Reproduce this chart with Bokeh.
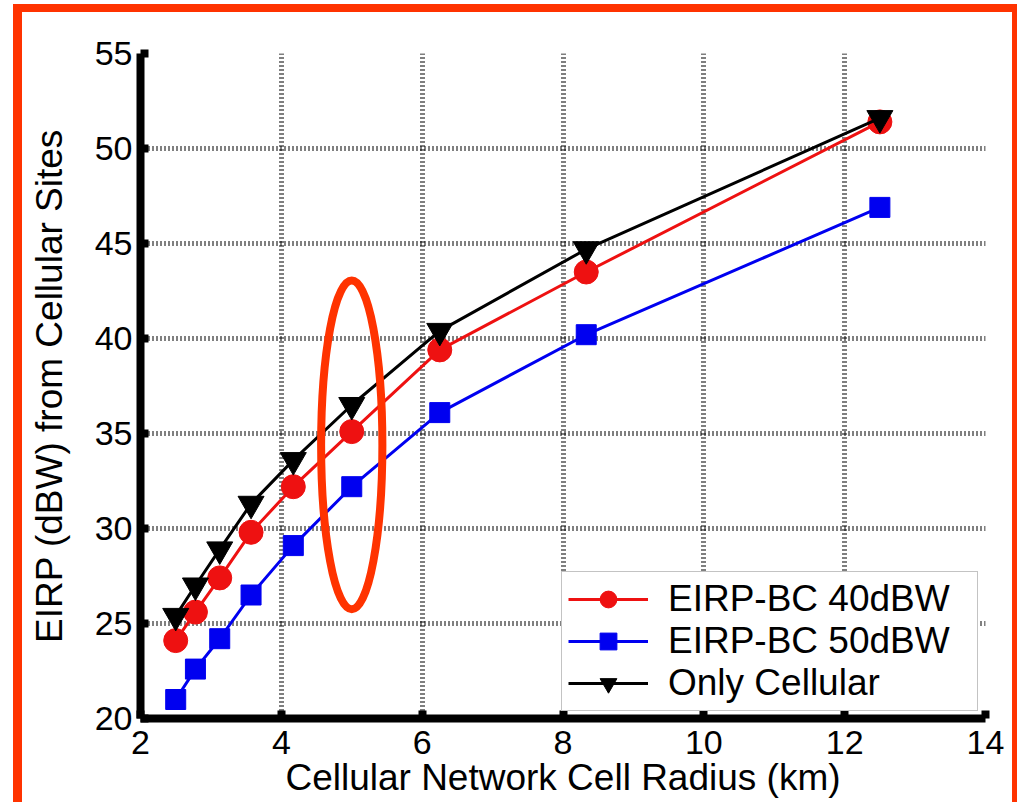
from bokeh.plotting import figure
from bokeh.models import Range1d, FixedTicker, Legend, LegendItem
from bokeh.embed import file_html
from bokeh.resources import INLINE

# ---- data ----
radius_km = [2.5, 2.78, 3.125, 3.57, 4.17, 5.0, 6.25, 8.33, 12.5]
eirp_bc40 = [24.1, 25.6, 27.4, 29.8, 32.2, 35.1, 39.4, 43.5, 51.4]
eirp_bc50 = [21.0, 22.6, 24.2, 26.5, 29.1, 32.2, 36.1, 40.2, 46.9]
only_cell = [25.4, 27.0, 28.9, 31.3, 33.6, 36.5, 40.4, 44.7, 51.6]
series_names = ["EIRP-BC 40dBW", "EIRP-BC 50dBW", "Only Cellular"]
x_ticks = [2, 4, 6, 8, 10, 12, 14]
y_ticks = [20, 25, 30, 35, 40, 45, 50, 55]

# highlight ellipse (around R = 5 km)
ell_x, ell_y, ell_w, ell_h = 5.0, 34.4, 0.87, 17.3

FONT = "Liberation Sans"
ORANGE = "#ff3300"
RED = "#ee1111"
BLUE = "#0000f0"

W, H = 1017, 802

p = figure(width=W, height=H, output_backend="svg", toolbar_location=None,
           x_range=Range1d(2, 14), y_range=Range1d(20, 55),
           min_border_left=140, min_border_right=32, min_border_top=53,
           min_border_bottom=84)
p.outline_line_color = None
p.background_fill_color = "white"
p.border_fill_color = None

# orange frame around the whole picture, painted behind the (transparent) canvas border
g = f"linear-gradient({ORANGE},{ORANGE})"
p.styles = {
    "background": (
        f"{g} 13px 4px / 9px {H - 4}px no-repeat, "
        f"{g} 13px 4px / {W - 13}px 8px no-repeat, "
        f"{g} {W - 5}px 4px / 5px {H - 4}px no-repeat, "
        "white"
    )
}

for ax in (p.xaxis[0], p.yaxis[0]):
    ax.axis_line_width = 8
    ax.axis_line_color = "black"
    ax.major_tick_in = 8
    ax.major_tick_out = 0
    ax.major_tick_line_width = 8
    ax.minor_tick_line_color = None
    ax.major_label_text_font = FONT
    ax.major_label_text_font_size = "34px"
    ax.major_label_text_color = "black"
    ax.axis_label_text_font = FONT
    ax.axis_label_text_font_size = "37px"
    ax.axis_label_text_font_style = "normal"
    ax.axis_label_text_color = "black"

p.xaxis.ticker = FixedTicker(ticks=x_ticks)
p.yaxis.ticker = FixedTicker(ticks=y_ticks)
p.xaxis.axis_label = "Cellular Network Cell Radius (km)"
p.yaxis.axis_label = "EIRP (dBW) from Cellular Sites"
p.xaxis.major_label_standoff = 12
p.yaxis.major_label_standoff = 8
p.xaxis.axis_label_standoff = 0
p.yaxis.axis_label_standoff = 22

for gr in (p.xgrid[0], p.ygrid[0]):
    gr.grid_line_color = "black"
    gr.grid_line_alpha = 1.0
    gr.grid_line_width = 5
    gr.grid_line_dash = "1 3"

# series
r1l = p.line(radius_km, eirp_bc40, line_color=RED, line_width=3)
r1m = p.scatter(radius_km, eirp_bc40, marker="circle", size=24, fill_color=RED, line_color=RED)
r2l = p.line(radius_km, eirp_bc50, line_color=BLUE, line_width=3)
r2m = p.scatter(radius_km, eirp_bc50, marker="square", size=20, fill_color=BLUE, line_color=BLUE)
r3l = p.line(radius_km, only_cell, line_color="black", line_width=3)
r3m = p.scatter(radius_km, only_cell, marker="inverted_triangle", size=26, fill_color="black", line_color="black")

# highlight ellipse
p.ellipse(x=[ell_x], y=[ell_y], width=ell_w, height=ell_h,
          fill_color=None, line_color=ORANGE, line_width=8)

legend = Legend(items=[
    LegendItem(label=series_names[0], renderers=[r1l, r1m]),
    LegendItem(label=series_names[1], renderers=[r2l, r2m]),
    LegendItem(label=series_names[2], renderers=[r3l, r3m]),
], location="bottom_right")
legend.label_text_font = FONT
legend.label_text_font_size = "37px"
legend.label_text_color = "black"
legend.glyph_width = 80
legend.glyph_height = 42
legend.label_height = 42
legend.label_width = 303
legend.label_standoff = 20
legend.padding = 6
legend.spacing = 0
legend.margin = 7
legend.border_line_color = "#888888"
legend.border_line_width = 1.5
legend.background_fill_color = "white"
legend.background_fill_alpha = 1
p.add_layout(legend, "center")

open("out.html", "w").write(file_html(p, INLINE))
